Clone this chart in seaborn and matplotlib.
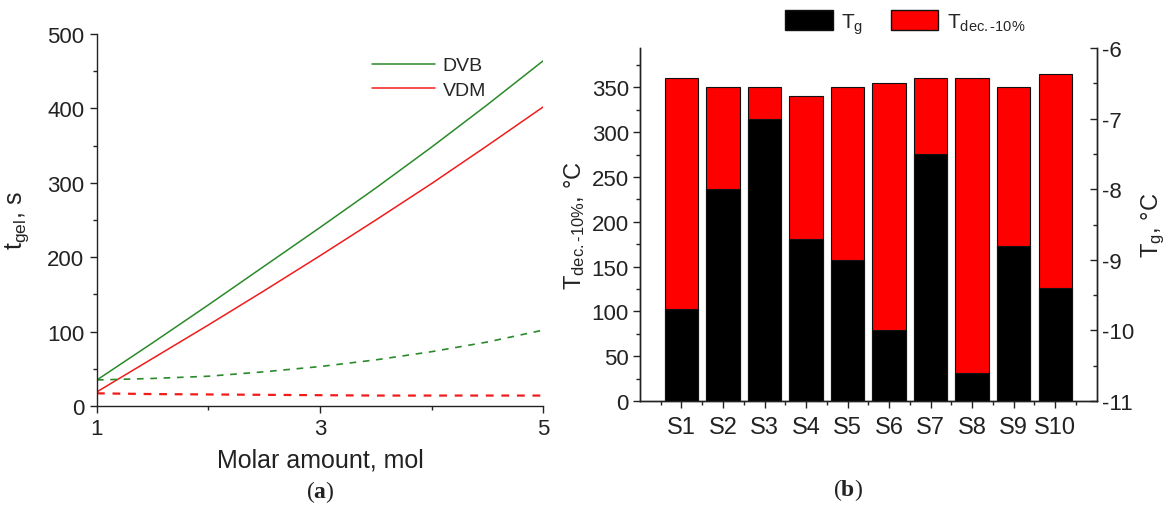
import seaborn as sns
import matplotlib.pyplot as plt
import pandas as pd
import numpy as np
from matplotlib.patches import Patch
from matplotlib.ticker import MultipleLocator, FixedLocator

# panel (a): gel time vs molar amount
molar = [1.0, 1.5, 2.0, 2.5, 3.0, 3.5, 4.0, 4.5, 5.0]
dvb_solid = [35, 85, 136, 188, 240, 293, 348, 405, 464]
vdm_solid = [19, 64, 109, 155, 202, 250, 299, 350, 402]
dvb_dashed = [35, 37, 40, 46, 53, 62, 73, 86, 102]
vdm_dashed = [17, 16, 15.5, 15, 14.5, 14, 14, 14, 14]

# panel (b): thermal data per sample
samples = ["S1", "S2", "S3", "S4", "S5", "S6", "S7", "S8", "S9", "S10"]
t_dec = [360, 350, 350, 340, 350, 355, 360, 360, 350, 365]
t_g = [-9.7, -8.0, -7.0, -8.7, -9.0, -10.0, -7.5, -10.6, -8.8, -9.4]
tg_floor = -11

sns.set_theme(style="ticks")
plt.rcParams["font.family"] = ["Liberation Sans", "DejaVu Sans"]
plt.rcParams["mathtext.fontset"] = "custom"
plt.rcParams["mathtext.rm"] = "Liberation Sans"
plt.rcParams["mathtext.it"] = "Liberation Sans"
plt.rcParams["mathtext.bf"] = "Liberation Serif:bold"
plt.rcParams["axes.unicode_minus"] = False

GREEN = "#2a8a2a"
RED = "#f01c1c"
INK = "#222222"

fig = plt.figure(figsize=(11.71, 5.06), dpi=100)
ax_a = fig.add_axes([0.0828, 0.1957, 0.381, 0.735])
ax_b = fig.add_axes([0.5465, 0.2055, 0.390, 0.6976])

# ---- (a) ----
df_a = pd.DataFrame({"x": molar, "dvb": dvb_solid, "vdm": vdm_solid,
                     "dvb_d": dvb_dashed, "vdm_d": vdm_dashed})
sns.lineplot(data=df_a, x="x", y="dvb", ax=ax_a, color=GREEN, lw=1.1, label="DVB")
sns.lineplot(data=df_a, x="x", y="vdm", ax=ax_a, color=RED, lw=1.1, label="VDM")
sns.lineplot(data=df_a, x="x", y="dvb_d", ax=ax_a, color=GREEN, lw=1.2,
             legend=False).lines[-1].set_dashes([4, 4])
sns.lineplot(data=df_a, x="x", y="vdm_d", ax=ax_a, color=RED, lw=1.6,
             legend=False).lines[-1].set_dashes([3.5, 3.5])

ax_a.set_xlim(1, 5)
ax_a.set_ylim(0, 500)
ax_a.xaxis.set_major_locator(FixedLocator([1, 3, 5]))
ax_a.xaxis.set_minor_locator(FixedLocator([2, 4]))
ax_a.yaxis.set_major_locator(MultipleLocator(100))
ax_a.yaxis.set_minor_locator(MultipleLocator(50))
ax_a.tick_params(which="major", direction="out", length=5, width=1, colors=INK,
                 labelsize=16, pad=4)
ax_a.tick_params(which="minor", direction="out", length=3, width=1, colors=INK)
ax_a.set_xlabel("Molar amount, mol", fontsize=18, color=INK, labelpad=6)
ax_a.set_ylabel("t$_{\\mathrm{gel}}$, s", fontsize=18, color=INK, labelpad=12)
for side in ["top", "right"]:
    ax_a.spines[side].set_visible(False)
for side in ["left", "bottom"]:
    ax_a.spines[side].set_color(INK)
    ax_a.spines[side].set_linewidth(1)
ax_a.legend(loc="upper left", bbox_to_anchor=(0.6, 0.96), frameon=False,
            fontsize=14, handlelength=3.2, handletextpad=0.4, labelspacing=0.35,
            borderaxespad=0)

# ---- (b) ----
df_b = pd.DataFrame({"sample": samples, "t_dec": t_dec, "t_g": t_g})
df_b["tg_height"] = df_b["t_g"] - tg_floor

sns.barplot(data=df_b, x="sample", y="t_dec", ax=ax_b, color="#ff0000",
            saturation=1, width=0.8, edgecolor="#111111", linewidth=0.8)
ax_t = ax_b.twinx()
sns.barplot(data=df_b, x="sample", y="tg_height", ax=ax_t, color="black",
            saturation=1, width=0.8, edgecolor="#111111", linewidth=0.8,
            bottom=tg_floor)

ax_b.set_xlim(-1, 10)
ax_b.set_ylim(0, 394)
ax_t.set_ylim(-11, -6)
ax_b.yaxis.set_major_locator(MultipleLocator(50))
ax_b.yaxis.set_minor_locator(MultipleLocator(25))
ax_t.yaxis.set_major_locator(MultipleLocator(1))
ax_t.yaxis.set_minor_locator(MultipleLocator(0.5))
ax_b.xaxis.set_minor_locator(FixedLocator(np.arange(-0.5, 10, 1.0)))

ax_b.tick_params(which="major", direction="out", length=5, width=1, colors=INK,
                 labelsize=16, pad=3)
ax_b.tick_params(axis="x", labelsize=17, pad=6)
ax_b.tick_params(which="minor", direction="out", length=3, width=1, colors=INK)
ax_t.tick_params(which="major", direction="in", length=5, width=1, colors=INK,
                 labelsize=16, pad=4)
ax_t.tick_params(which="minor", direction="in", length=3, width=1, colors=INK)

ax_b.set_xlabel("")
ax_b.set_ylabel("T$_{\\mathrm{dec.\\text{-}10\\%}}$, °C", fontsize=17, color=INK,
                labelpad=3)
ax_t.set_ylabel("T$_{\\mathrm{g}}$, °C", fontsize=17, color=INK, labelpad=4)
for a in (ax_b, ax_t):
    a.spines["top"].set_visible(False)
    for side in ["left", "bottom", "right"]:
        a.spines[side].set_color(INK)
        a.spines[side].set_linewidth(1)

handles = [Patch(facecolor="black", edgecolor="#111111"),
           Patch(facecolor="#ff0000", edgecolor="#111111")]
fig.legend(handles, ["T$_{\\mathrm{g}}$", "T$_{\\mathrm{dec.\\text{-}10\\%}}$"],
           loc="center left", bbox_to_anchor=(785 / 1171, 1 - 24 / 506),
           ncol=2, frameon=False, fontsize=15, handlelength=2.3,
           handleheight=1.1, handletextpad=0.4, columnspacing=1.3,
           borderpad=0, borderaxespad=0)

# captions
fig.text(320 / 1171, 1 - 492 / 506, "($\\mathbf{a}$)", ha="center", va="center",
         fontsize=17, family="Liberation Serif", color=INK)
fig.text(848 / 1171, 1 - 490 / 506, "($\\mathbf{b}$)", ha="center", va="center",
         fontsize=17, family="Liberation Serif", color=INK)

fig.savefig("out.png", dpi=100)
